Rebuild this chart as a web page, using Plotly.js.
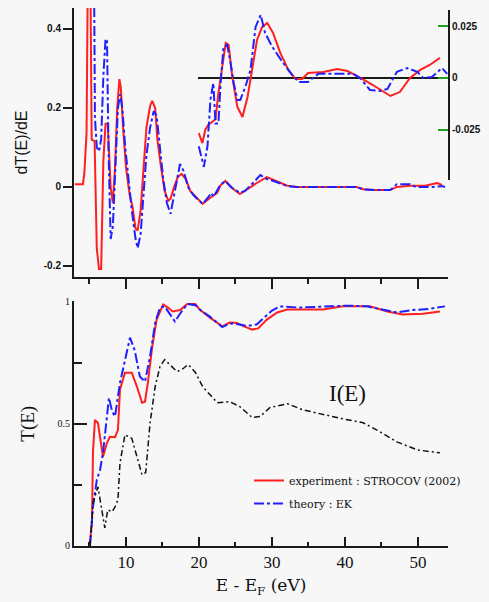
<!DOCTYPE html>
<html>
<head>
<meta charset="utf-8">
<script src="https://cdn.plot.ly/plotly-3.0.1.min.js"></script>
<style>html,body{margin:0;padding:0;background:#f7f7f7;}#chart{width:489px;height:602px;}</style>
</head>
<body>
<div id="chart"></div>
<script>
// ---------- top panel: dT(E)/dE ----------
const dExpX = [3.0,4.1,4.3,4.6,4.8,5.1,5.3,5.7,6.0,6.3,6.6,6.9,7.2,7.5,7.9,8.2,8.5,8.8,9.1,9.3,9.6,10.0,10.5,10.9,11.3,11.6,12.0,12.4,12.8,13.3,13.6,14.0,14.3,14.8,15.3,15.8,16.1,16.6,17.1,17.6,18.2,18.8,19.7,20.5,21.5,22.5,22.9,23.6,24.5,25.6,26.7,27.9,29.3,30.7,32.1,33.4,36.0,38.0,41.6,42.5,44.0,46.2,47.1,48.9,51.0,52.6,53.3];
const dExpY = [0.007,0.007,0.035,0.137,0.6,0.6,0.12,0.116,-0.155,-0.208,-0.208,0.066,0.16,0.16,0.0,-0.04,0.05,0.2,0.273,0.25,0.15,0.05,-0.02,-0.05,-0.105,-0.11,-0.06,0.05,0.15,0.205,0.218,0.2,0.12,0.05,-0.01,-0.035,-0.03,0.0,0.025,0.033,0.02,-0.01,-0.028,-0.043,-0.028,-0.015,0.003,0.015,-0.002,-0.018,-0.005,0.01,0.025,0.015,0.003,0.0,0.0,0.0,0.0,-0.006,-0.008,-0.008,0.0,0.003,0.003,0.01,0.005];
const dThX = [5.6,5.75,6.0,6.3,6.6,6.9,7.2,7.4,7.6,7.9,8.2,8.5,8.9,9.2,9.5,9.9,10.4,10.8,11.3,11.6,12.0,12.4,12.8,13.3,13.8,14.2,14.6,15.1,15.6,16.1,16.6,17.1,17.4,17.9,18.5,19.2,19.7,20.5,21.3,21.7,22.0,22.5,22.9,23.6,24.5,25.6,26.3,27.4,28.4,29.3,30.7,32.1,33.4,36.0,41.6,42.5,44.0,46.2,47.1,48.9,49.7,52.0,53.3,53.7];
const dThY = [0.6,0.175,0.10,0.09,0.12,0.28,0.375,0.37,0.1,-0.132,-0.1,0.05,0.2,0.235,0.2,0.1,0.0,-0.06,-0.13,-0.155,-0.12,-0.02,0.08,0.15,0.192,0.18,0.1,0.02,-0.04,-0.068,-0.02,0.03,0.058,0.04,0.0,-0.02,-0.028,-0.043,-0.025,-0.015,-0.025,-0.01,0.005,0.015,-0.002,-0.015,-0.01,0.01,0.03,0.02,0.012,0.002,0.0,0.0,0.0,-0.006,-0.008,-0.008,0.007,0.007,0.0,0.0,0.002,0.0];

// ---------- inset (right axis) ----------
const inExpX = [19.9,20.4,20.8,21.2,22.2,22.6,23.2,23.6,24.0,24.5,25.2,25.9,26.6,27.3,27.9,28.6,29.3,30.1,31.1,32.2,33.2,34.1,34.9,35.9,37.0,38.9,40.3,42.1,43.8,46.2,47.5,48.9,50.3,51.6,53.0];
const inExpY = [-0.0266,-0.0315,-0.025,-0.0227,-0.020,-0.0073,0.0072,0.0169,0.016,0.0005,-0.014,-0.0189,-0.0092,0.0053,0.0184,0.0247,0.0266,0.0218,0.012,0.0039,-0.0005,-0.0005,0.0024,0.0027,0.0029,0.0043,0.0034,0.0,-0.0034,-0.0087,-0.0068,0.0,0.0039,0.0063,0.0097];
const inThX = [19.9,20.4,20.6,21.1,21.5,21.9,22.2,22.6,22.9,23.3,23.8,24.2,24.7,25.2,25.6,26.3,27.0,27.7,28.4,29.0,30.0,31.4,32.7,33.6,34.9,36.3,37.0,41.1,42.1,43.4,44.8,45.8,47.1,48.5,49.9,50.7,51.9,53.3,54.0];
const inThY = [-0.033,-0.041,-0.043,-0.033,-0.0106,-0.0024,-0.022,-0.022,-0.0024,0.015,0.016,0.0087,-0.0024,-0.0106,-0.0106,-0.0043,0.0039,0.0247,0.0305,0.0218,0.015,0.0077,0.0015,-0.0019,-0.0019,0.002,0.002,0.002,-0.0002,-0.0058,-0.0063,-0.0053,0.003,0.0048,0.003,0.0,0.0005,0.0048,0.002];

// ---------- bottom panel: T(E) ----------
const tExpX = [5.0,5.34,5.48,5.75,6.16,6.44,6.85,7.4,7.8,8.5,8.9,9.18,9.86,10.8,11.5,12.2,12.6,13.0,13.6,14.2,15.1,15.75,16.4,17.4,18.4,19.5,20.1,21.5,23.2,24.2,25.2,26.0,27.3,28.1,29.3,30.7,32.1,37.0,39.7,43.4,45.8,47.9,50.7,53.0];
const tExpY = [0.0,0.094,0.385,0.516,0.503,0.447,0.365,0.422,0.447,0.445,0.475,0.64,0.709,0.709,0.652,0.586,0.59,0.668,0.816,0.926,0.988,0.975,0.959,0.965,0.99,0.99,0.967,0.934,0.898,0.914,0.912,0.9,0.885,0.89,0.926,0.955,0.967,0.967,0.98,0.98,0.959,0.947,0.95,0.959];
const tThX = [5.07,5.48,6.0,6.44,6.85,7.4,7.67,8.1,8.5,9.18,9.86,10.55,11.2,11.9,12.6,13.3,14.0,14.66,15.3,16.0,16.7,17.4,18.4,19.5,20.1,21.5,23.2,24.2,25.6,26.6,27.9,28.8,30.0,31.1,33.8,37.9,40.3,43.0,45.2,47.1,49.3,51.6,53.7];
const tThY = [0.0,0.16,0.27,0.31,0.38,0.53,0.606,0.55,0.53,0.667,0.762,0.852,0.80,0.693,0.672,0.775,0.913,0.975,0.98,0.95,0.918,0.95,0.99,0.985,0.967,0.938,0.895,0.91,0.906,0.9,0.906,0.93,0.963,0.98,0.975,0.98,0.983,0.98,0.967,0.955,0.965,0.97,0.98];
const iX = [5.07,5.48,6.16,6.7,7.1,7.5,8.1,8.5,8.9,9.18,9.86,10.8,11.5,12.2,12.7,13.3,14.0,14.66,15.3,16.0,17.0,17.8,18.5,18.8,19.5,20.5,22.5,24.2,25.6,27.3,28.4,29.7,32.1,34.2,37.0,39.7,42.5,44.8,47.1,49.9,53.0];
const iY = [0.0,0.176,0.242,0.148,0.074,0.148,0.14,0.16,0.189,0.339,0.455,0.44,0.365,0.291,0.30,0.503,0.652,0.734,0.762,0.74,0.713,0.725,0.742,0.734,0.71,0.652,0.586,0.59,0.57,0.525,0.53,0.566,0.582,0.557,0.537,0.52,0.504,0.467,0.426,0.393,0.381];

// ---------- ticks / labels ----------
const xMajor = [10,20,30,40,50];
const xMinor = [5,15,25,35,45];
const dTicks = [-0.2,0,0.2,0.4];
const dTickText = ['-0.2','0','0.2','0.4'];
const insetTicks = [-0.025,0,0.025];
const insetTickText = ['-0.025','0','0.025'];
const tTicks = [0,0.5,1];
const tTickText = ['0','0.5','1'];
const tMinor = [0.25,0.75];
const legendNames = ['experiment : STROCOV (2002)','theory : EK'];

const RED = '#ff1f1f', BLUE = '#2020ff', AX = '#1a1a1a';
const serif = 'Liberation Serif, serif';
const wserif = 'DejaVu Serif, serif';
const sans = 'Liberation Sans, Arial, sans-serif';
const xr = [2.88, 54.11];

const traces = [
  {x:dExpX, y:dExpY, xaxis:'x2', yaxis:'y2', mode:'lines', line:{color:RED,width:2}, showlegend:false},
  {x:dThX, y:dThY, xaxis:'x2', yaxis:'y2', mode:'lines', line:{color:BLUE,width:2,dash:'10px,3px,3px,3px'}, showlegend:false},
  {x:inExpX, y:inExpY, xaxis:'x3', yaxis:'y3', mode:'lines', line:{color:RED,width:2}, showlegend:false},
  {x:inThX, y:inThY, xaxis:'x3', yaxis:'y3', mode:'lines', line:{color:BLUE,width:2,dash:'10px,3px,3px,3px'}, showlegend:false},
  {x:tExpX, y:tExpY, xaxis:'x', yaxis:'y', mode:'lines', name:legendNames[0], legendgroup:'a', line:{color:RED,width:2}},
  {x:tThX, y:tThY, xaxis:'x', yaxis:'y', mode:'lines', name:legendNames[1], legendgroup:'b', line:{color:BLUE,width:2,dash:'10px,3px,3px,3px'}},
  {x:iX, y:iY, xaxis:'x', yaxis:'y', mode:'lines', line:{color:'#111',width:1.5,dash:'6px,3px,2px,3px'}, showlegend:false}
];

const layout = {
  width:489, height:602,
  margin:{l:74, r:41, t:8, b:56},
  paper_bgcolor:'#f7f7f7', plot_bgcolor:'rgba(0,0,0,0)',
  showlegend:true,
  legend:{x:0.468, y:0.1487, xanchor:'left', yanchor:'top', bgcolor:'rgba(0,0,0,0)',
          font:{family:wserif, size:11, color:'#111'}, traceorder:'grouped', tracegroupgap:4},
  xaxis:{anchor:'y', domain:[0,1], range:xr, tickmode:'array', tickvals:xMajor, ticks:'inside', ticklen:9, tickwidth:2, tickcolor:AX,
         minor:{tickmode:'array', tickvals:xMinor, ticks:'inside', ticklen:4, tickwidth:2, tickcolor:AX},
         showline:true, linewidth:2, linecolor:AX, showgrid:false, zeroline:false,
         tickfont:{family:serif, size:17, color:'#111'},
         title:{text:'E - E<sub>F</sub> (eV)', font:{family:wserif, size:17, color:'#111'}, standoff:8}},
  yaxis:{anchor:'x', domain:[0,0.4545], range:[0,1.0], tickmode:'array', tickvals:tTicks, ticktext:tTickText, ticks:'inside', ticklen:13, tickwidth:2, tickcolor:AX,
         minor:{tickmode:'array', tickvals:tMinor, ticks:'inside', ticklen:8, tickwidth:2, tickcolor:AX},
         showline:true, linewidth:2, linecolor:AX, showgrid:false, zeroline:false,
         tickfont:{family:serif, size:10, color:'#111'},
         title:{text:'T(E)', font:{family:serif, size:19, color:'#111'}, standoff:18}},
  xaxis2:{anchor:'y2', domain:[0,1], range:xr, tickmode:'array', tickvals:xMajor, ticks:'outside', ticklen:10, tickwidth:2, tickcolor:AX,
          minor:{tickmode:'array', tickvals:xMinor, ticks:'outside', ticklen:5, tickwidth:2, tickcolor:AX},
          showticklabels:false, showline:true, linewidth:2, linecolor:AX, showgrid:false, zeroline:false},
  xaxis4:{overlaying:'x2', anchor:'y2', range:xr, tickmode:'array', tickvals:xMajor, ticks:'inside', ticklen:10, tickwidth:2, tickcolor:AX,
          minor:{tickmode:'array', tickvals:xMinor, ticks:'inside', ticklen:5, tickwidth:2, tickcolor:AX},
          showticklabels:false, showline:false, showgrid:false, zeroline:false},
  yaxis2:{anchor:'x2', domain:[0.5,1], range:[-0.228,0.453], tickmode:'array', tickvals:dTicks, ticktext:dTickText, ticks:'outside', ticklen:9, tickwidth:2, tickcolor:AX,
          showline:true, linewidth:2, linecolor:AX, showgrid:false, zeroline:false,
          tickfont:{family:sans, size:10, color:'#111', weight:'bold'},
          title:{text:'dT(E)/dE', font:{family:sans, size:16, color:'#111'}, standoff:12}},
  xaxis3:{anchor:'y3', domain:[0.3316,1], range:[19.8,54.11], visible:false},
  yaxis3:{anchor:'x3', side:'right', domain:[0.6803,0.9963], range:[-0.04933,0.03288], tickmode:'array', tickvals:insetTicks, ticktext:insetTickText,
          ticks:'inside', ticklen:10, tickwidth:2, tickcolor:'#22a022',
          showline:true, linewidth:2, linecolor:AX, showgrid:false, zeroline:true, zerolinecolor:AX, zerolinewidth:2,
          tickfont:{family:sans, size:10, color:'#111', weight:'bold'}},
  annotations:[{xref:'x', yref:'y', x:40.4, y:0.623, text:'I(E)', showarrow:false, font:{family:serif, size:23, color:'#111'}}]
};

Plotly.newPlot('chart', traces, layout, {displayModeBar:false, staticPlot:true});
</script>
</body>
</html>
